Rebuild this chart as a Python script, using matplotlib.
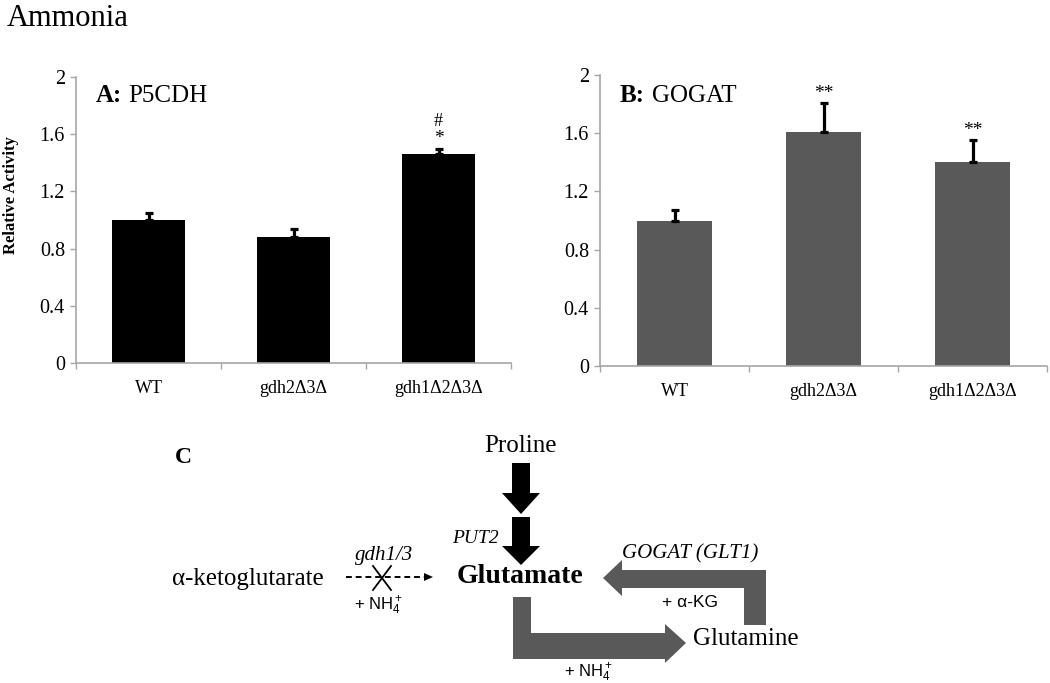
import numpy as np
import matplotlib
matplotlib.use("Agg")
import matplotlib.pyplot as plt
from matplotlib.patches import Polygon

plt.rcParams['font.family'] = ['Liberation Serif', 'DejaVu Serif']
plt.rcParams['mathtext.fontset'] = 'custom'
plt.rcParams['mathtext.rm'] = 'Liberation Sans'
plt.rcParams['mathtext.it'] = 'Liberation Sans:italic'
plt.rcParams['mathtext.bf'] = 'Liberation Sans:bold'

# ---------------- data ----------------
categories = ['WT', 'gdh2Δ3Δ', 'gdh1Δ2Δ3Δ']
p5cdh_values = [1.00, 0.88, 1.46]
p5cdh_errors = [0.05, 0.06, 0.04]
gogat_values = [1.00, 1.61, 1.40]
gogat_errors = [0.07, 0.20, 0.155]
p5cdh_sig = ['', '', '*']
p5cdh_sig2 = ['', '', '#']
gogat_sig = ['', '**', '**']
yticks = [0, 0.4, 0.8, 1.2, 1.6, 2]
ytick_labels = ['0', '0.4', '0.8', '1.2', '1.6', '2']

W, H = 1050, 683
fig = plt.figure(figsize=(W / 100, H / 100), dpi=100)
fig.patch.set_facecolor('white')

SPINE = '#a6a6a6'


def fpos(left, top, right, bottom):
    return [left / W, (H - bottom) / H, (right - left) / W, (bottom - top) / H]


def bar_panel(rect, values, errors, color, sigs, sigs2):
    ax = fig.add_axes(rect)
    x = np.arange(len(categories))
    ax.bar(x, values, width=0.5, color=color, zorder=2)
    ax.errorbar(x, values, yerr=[np.zeros(len(errors)), errors], fmt='none',
                ecolor='black', elinewidth=2.3, capsize=3.2, capthick=2.3, zorder=3)
    for xi, v, e, s, s2 in zip(x, values, errors, sigs, sigs2):
        if s:
            ax.text(xi, v + e + 0.035, s, ha='center', va='baseline', fontsize=14)
        if s2:
            ax.text(xi, v + e + 0.155, s2, ha='center', va='baseline', fontsize=13)
    ax.set_xlim(-0.5, len(categories) - 0.5)
    ax.set_ylim(0, 2)
    ax.set_yticks(yticks)
    ax.set_yticklabels(ytick_labels, fontsize=14.5)
    ax.set_xticks(x)
    ax.set_xticklabels(categories, fontsize=13)
    ax.set_xticks(np.arange(-0.5, len(categories), 1.0), minor=True)
    ax.tick_params(axis='x', which='major', length=0, pad=12)
    ax.tick_params(axis='x', which='minor', length=4.5, width=1, color=SPINE,
                   direction='out')
    ax.tick_params(axis='y', length=4, width=1, color=SPINE, pad=4)
    for side in ['top', 'right']:
        ax.spines[side].set_visible(False)
    for side in ['left', 'bottom']:
        ax.spines[side].set_color(SPINE)
        ax.spines[side].set_linewidth(1.2)
    ax.set_facecolor('none')
    return ax


axA = bar_panel(fpos(76, 77, 511, 363), p5cdh_values, p5cdh_errors, 'black',
                p5cdh_sig, p5cdh_sig2)
axB = bar_panel(fpos(600, 75, 1047, 366), gogat_values, gogat_errors, '#595959',
                gogat_sig, ['', '', ''])

# ---------------- overlay in pixel coordinates ----------------
ov = fig.add_axes([0, 0, 1, 1])
ov.set_xlim(0, W)
ov.set_ylim(H, 0)
ov.axis('off')
ov.patch.set_alpha(0)

ov.text(7, 26, 'Ammonia', fontsize=22, ha='left', va='baseline')
ov.text(11, 195, 'Relative Activity', fontsize=12, fontweight='bold',
        rotation=90, ha='center', va='center')
ov.text(96, 102, 'A:', fontsize=18, fontweight='bold', ha='left', va='baseline')
ov.text(128, 102, 'P5CDH', fontsize=18, ha='left', va='baseline')
ov.text(620, 102, 'B:', fontsize=18, fontweight='bold', ha='left', va='baseline')
ov.text(652, 102, 'GOGAT', fontsize=18, ha='left', va='baseline')

# Panel C diagram
ov.text(175, 463, 'C', fontsize=17, fontweight='bold', ha='left', va='baseline')
ov.text(520, 452, 'Proline', fontsize=18, ha='center', va='baseline')
ov.text(172, 585, 'α-ketoglutarate', fontsize=18, ha='left', va='baseline')
ov.text(457, 583, 'Glutamate', fontsize=20, fontweight='bold', ha='left', va='baseline')
ov.text(693, 645, 'Glutamine', fontsize=18, ha='left', va='baseline')
ov.text(452, 543, 'PUT2', fontsize=14, style='italic', ha='left', va='baseline')
ov.text(384, 560, 'gdh1/3', fontsize=15, style='italic', ha='center', va='baseline')
ov.text(690, 558, 'GOGAT (GLT1)', fontsize=15, style='italic', ha='center', va='baseline')
ov.text(378, 610, '+ NH$_4^+$', fontsize=12, family='Liberation Sans',
        ha='center', va='baseline')
ov.text(588, 677, '+ NH$_4^+$', fontsize=12, family='Liberation Sans',
        ha='center', va='baseline')
ov.text(690, 607, '+ α-KG', fontsize=12.5, family='Liberation Sans',
        ha='center', va='baseline')

# black down arrows (Proline -> Glutamate)
for top, base, tip in [(463, 493, 514), (517, 546, 565)]:
    pts = [(512, top), (530, top), (530, base), (540, base), (521, tip),
           (502, base), (512, base)]
    ov.add_patch(Polygon(pts, closed=True, facecolor='black', edgecolor='none'))

GRAY = '#595959'
# Glutamine -> Glutamate (GOGAT)
pts = [(744, 625), (766, 625), (766, 570), (622, 570), (622, 560), (603, 578),
       (622, 596), (622, 588), (744, 588)]
ov.add_patch(Polygon(pts, closed=True, facecolor=GRAY, edgecolor='none'))
# Glutamate -> Glutamine
pts = [(513, 597), (531, 597), (531, 633), (665, 633), (665, 624), (686, 643),
       (665, 663), (665, 659), (513, 659)]
ov.add_patch(Polygon(pts, closed=True, facecolor=GRAY, edgecolor='none'))

# dashed blocked arrow
ov.plot([346, 424], [577, 577], color='black', lw=1.4, ls=(0, (3, 2)))
ov.add_patch(Polygon([(424, 573), (433, 577), (424, 581)], closed=True,
                     facecolor='black', edgecolor='none'))
ov.plot([373, 391], [566, 590], color='black', lw=1.3)
ov.plot([373, 391], [590, 566], color='black', lw=1.3)

fig.savefig('out.png', dpi=100, facecolor='white')
